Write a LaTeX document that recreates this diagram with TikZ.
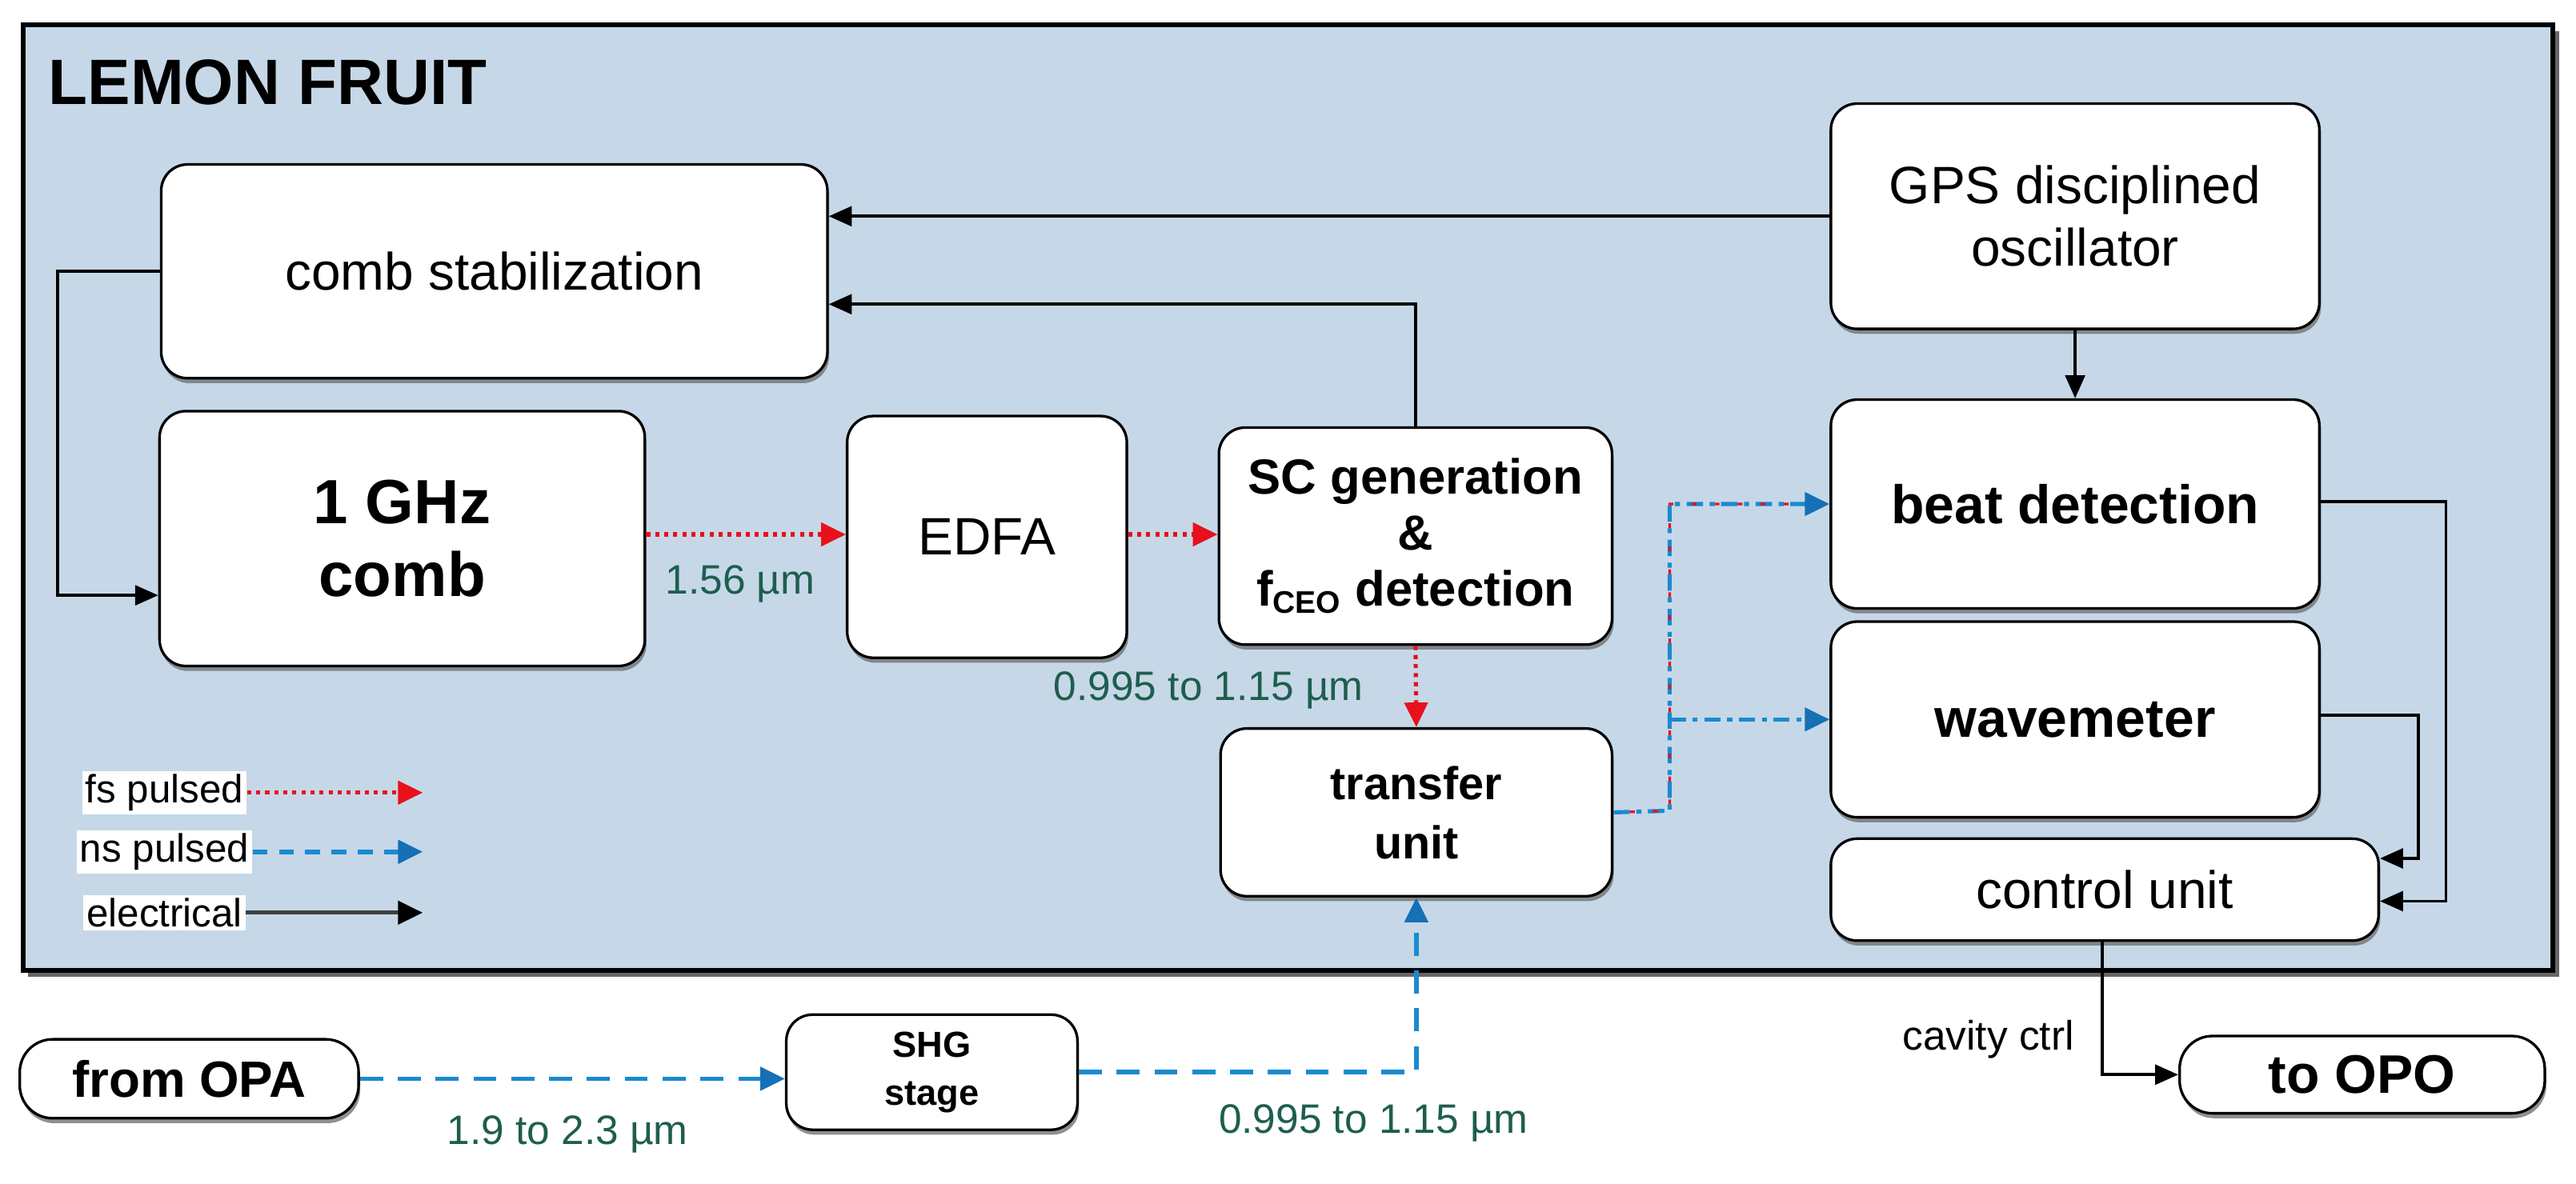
\documentclass[tikz,border=0pt]{standalone}
\usepackage{fontspec}
\setmainfont{Liberation Sans}
\usetikzlibrary{arrows.meta,shadows}
\definecolor{bg}{HTML}{C6D8E8}
\definecolor{lab}{HTML}{1E5E4E}
\definecolor{fsred}{HTML}{E8101B}
\definecolor{nsblue}{HTML}{1A8AD0}
\definecolor{nsdark}{HTML}{1570B5}
\begin{document}
\begin{tikzpicture}[x=1pt,y=-1pt,
  box/.style={draw=black,line width=1.6pt,fill=white,rounded corners=16pt,align=center,
    drop shadow={shadow xshift=1pt,shadow yshift=-3pt,fill=black!55,opacity=0.8},
    font=\fontsize{32}{38}\selectfont,inner sep=0pt},
  bbox/.style={box,font=\fontsize{33}{38}\selectfont\bfseries},
  el/.style={line width=1.8pt,-{Triangle[length=14pt,width=12pt]}},
  fs/.style={draw=fsred,line width=2.5pt,dash pattern=on 2.5pt off 3pt,-{Triangle[length=15pt,width=14pt,color=fsred]}},
  ns/.style={draw=nsblue,line width=2.8pt,dash pattern=on 14pt off 9pt,-{Triangle[length=15pt,width=14pt,color=nsdark]}},
  mix/.style={draw=nsblue,line width=2.5pt,dash pattern=on 10pt off 4pt on 3pt off 4pt,-{Triangle[length=15pt,width=14pt,color=nsdark]}},
  lbl/.style={text=lab,font=\fontsize{25}{28}\selectfont,inner sep=1pt},
  leg/.style={fill=white,font=\fontsize{24}{28}\selectfont,inner sep=2pt}]
\useasboundingbox (0,0) rectangle (1566,720);
\fill[black!60] (17,19) rectangle (1556,594);
\draw[line width=3pt,fill=bg] (14,15) rectangle (1552,590);
\node[anchor=west,font=\fontsize{39}{44}\selectfont\bfseries] (title) at (26,50) {LEMON FRUIT};

\node[box,minimum width=405,minimum height=130] (cs) at (300.5,165) {comb stabilization};
\node[box,minimum width=295,minimum height=155,font=\fontsize{38}{44}\selectfont\bfseries] (comb) at (244.5,327.5) {1 GHz\\comb};
\node[box,minimum width=170,minimum height=147] (edfa) at (600,326.5) {EDFA};
\node[bbox,minimum width=239,minimum height=132,font=\fontsize{30}{34}\selectfont\bfseries] (sc) at (860.5,326) {SC generation\\\&\\f\textsubscript{\fontsize{19}{20}\selectfont CEO} detection};
\node[bbox,minimum width=238,minimum height=102,font=\fontsize{28}{36}\selectfont\bfseries] (tu) at (861,494) {transfer\\unit};
\node[box,minimum width=297,minimum height=137] (gps) at (1261.5,131.5) {GPS disciplined\\oscillator};
\node[bbox,minimum width=297,minimum height=127] (beat) at (1261.5,306.5) {beat detection};
\node[bbox,minimum width=297,minimum height=119] (wm) at (1261.5,437.5) {wavemeter};
\node[box,minimum width=333,minimum height=62] (cu) at (1279.5,541) {control unit};
\node[bbox,minimum width=206,minimum height=48,rounded corners=20pt,font=\fontsize{31}{36}\selectfont\bfseries] (opa) at (115,656) {from OPA};
\node[bbox,minimum width=177,minimum height=70,font=\fontsize{22}{29}\selectfont\bfseries] (shg) at (566.5,652) {SHG\\stage};
\node[bbox,minimum width=222,minimum height=47,rounded corners=20pt,font=\fontsize{33}{36}\selectfont\bfseries] (opo) at (1436,653.5) {to OPO};

% electrical
\draw[el] (gps.west) -- (cs.east|-gps.west);
\draw[el] (sc.north) |- (cs.east|-0,185);
\coordinate (cl) at (35,165);
\draw[el] (cs.west|-cl) -- (cl) |- (comb.west|-0,362);
\draw[el] (gps.south) -- (beat.north);
\coordinate (br) at (1487,305);
\draw[el] (beat.east|-br) -- (br) |- (cu.east|-0,548);
\coordinate (wr) at (1470,435);
\draw[el] (wm.east|-wr) -- (wr) |- (cu.east|-0,522);
\draw[el] (cu.south-|1278,0) |- (opo.west);
\node[anchor=south east,font=\fontsize{25}{28}\selectfont,inner sep=1pt] (cc) at (1262,645) {cavity ctrl};

% optical fs
\draw[fs] (comb.east|-0,325) -- (edfa.west|-0,325);
\node[lbl] (l1) at (450,355) {1.56 µm};
\draw[fs] (edfa.east|-0,325) -- (sc.west|-0,325);
\draw[fs] (sc.south) -- (tu.north);
\node[lbl,anchor=east] (l2) at (830,420) {0.995 to 1.15 µm};

% mixed
\coordinate (jm) at (1015,493);
\draw[mix] (tu.east) -- (jm) |- (beat.west);
\draw[mix] (jm|-wm.west) -- (wm.west);
\draw[draw=fsred,line width=1.6pt,dash pattern=on 3pt off 11pt,dash phase=-10pt] (tu.east) -- (jm) |- ([xshift=-16pt]beat.west);

% ns
\draw[ns] (opa.east) -- (shg.west|-opa.east);
\node[lbl] (l3) at (345,690) {1.9 to 2.3 µm};
\draw[ns] (shg.east) -| (tu.south);
\node[lbl] (l4) at (835,683) {0.995 to 1.15 µm};

% legend
\node[leg] (lg1) at (100,482) {fs pulsed};
\coordinate (e1) at (257,482);
\draw[fs] (lg1.east) -- (e1);
\node[leg] (lg2) at (100,518) {ns pulsed};
\coordinate (e2) at (257,518);
\draw[ns,dash pattern=on 9pt off 7pt] (lg2.east) -- (e2);
\node[leg] (lg3) at (100,555) {electrical};
\coordinate (e3) at (257,555);
\draw[draw=black!75,line width=2.5pt,-{Triangle[length=15pt,width=14pt,color=black]}] (lg3.east) -- (e3);
\end{tikzpicture}
\end{document}
